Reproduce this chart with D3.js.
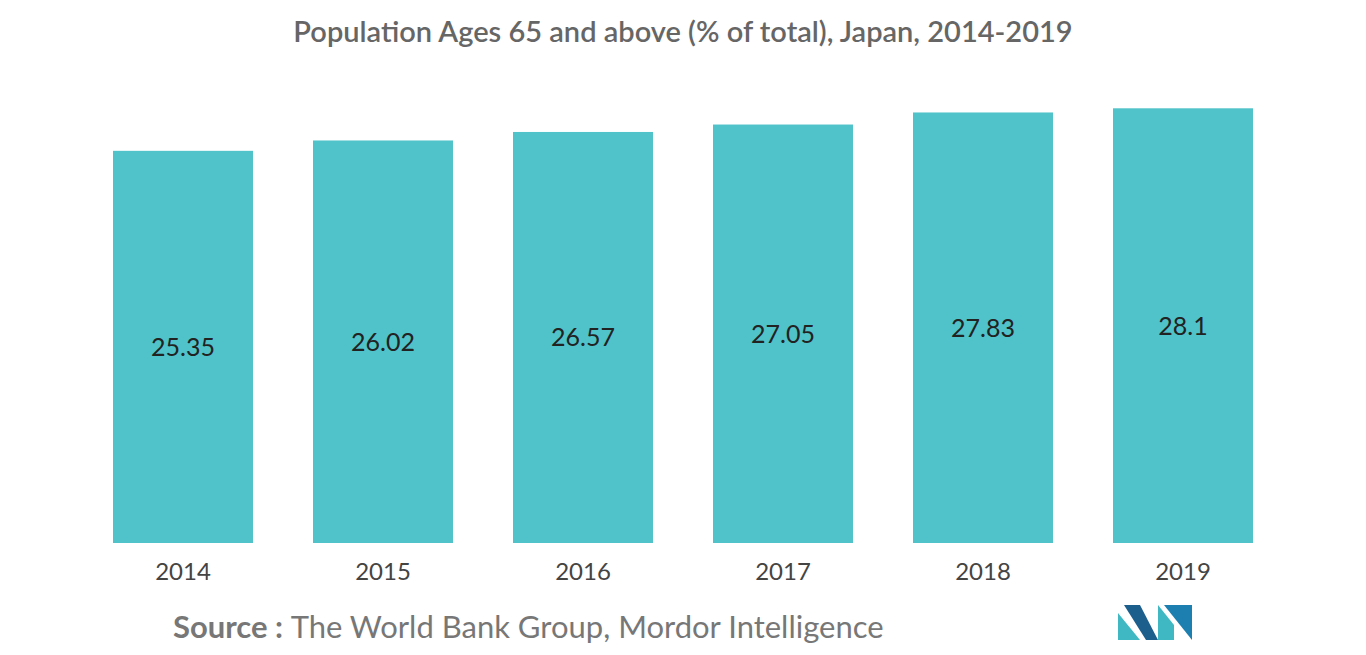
<!DOCTYPE html>
<html>
<head>
<meta charset="utf-8">
<script src="https://cdn.jsdelivr.net/npm/d3@7"></script>
<style>
  body { margin: 0; background: #fff; }
  text { font-family: Lato, "Open Sans", sans-serif; }
</style>
</head>
<body>
<svg id="chart" width="1366" height="655"></svg>
<script>
const years = ["2014", "2015", "2016", "2017", "2018", "2019"];
const shares = [25.35, 26.02, 26.57, 27.05, 27.83, 28.1];
const valueLabels = ["25.35", "26.02", "26.57", "27.05", "27.83", "28.1"];

const svg = d3.select("#chart");
const baseY = 543;

// x band: bars 140 wide at 200px step starting at 113
const x = d3.scaleBand().domain(years).range([83, 1283]).paddingInner(0.3).paddingOuter(0.15);
const y = d3.scaleLinear().domain([0, 30]).range([baseY, baseY - 30 * 15.47]);

svg.append("text")
  .attr("x", 683).attr("y", 42)
  .attr("text-anchor", "middle")
  .attr("font-size", 29).attr("font-weight", 600)
  .attr("fill", "#666")
  .text("Population Ages 65 and above (% of total), Japan, 2014-2019");

svg.append("g").selectAll("rect")
  .data(shares)
  .join("rect")
  .attr("x", (d, i) => x(years[i]))
  .attr("width", x.bandwidth())
  .attr("y", d => y(d))
  .attr("height", d => baseY - y(d))
  .attr("fill", "#4fc3c9");

svg.append("g").selectAll("text")
  .data(shares)
  .join("text")
  .attr("x", (d, i) => x(years[i]) + x.bandwidth() / 2)
  .attr("y", d => (y(d) + baseY) / 2 + 9)
  .attr("text-anchor", "middle")
  .attr("font-size", 25)
  .attr("fill", "#222")
  .text((d, i) => valueLabels[i]);

const xAxis = svg.append("g")
  .attr("transform", `translate(0,${baseY})`)
  .call(d3.axisBottom(x).tickSize(0).tickPadding(20));
xAxis.select(".domain").remove();
xAxis.selectAll("text")
  .attr("font-size", 24)
  .attr("fill", "#444")
  .style("font-family", "Lato, 'Open Sans', sans-serif");

const src = svg.append("text")
  .attr("x", 173).attr("y", 638)
  .attr("font-size", 31).attr("fill", "#777");
src.append("tspan").attr("font-weight", 700).text("Source : ");
src.append("tspan").text("The World Bank Group, Mordor Intelligence");

// logo
const logo = svg.append("g").attr("transform", "translate(1118,605)");
logo.append("path").attr("d", "M0,35 L0,8 L22,35 Z").attr("fill", "#3fb8c4");
logo.append("path").attr("d", "M6,0 L22,0 L40,35 L28,35 Z").attr("fill", "#1c5e8c");
logo.append("path").attr("d", "M40,35 L40,0 L56,20 L56,35 Z").attr("fill", "#3fb8c4");
logo.append("path").attr("d", "M46,0 L74,0 L74,35 Z").attr("fill", "#1c7fb0");
</script>
</body>
</html>
